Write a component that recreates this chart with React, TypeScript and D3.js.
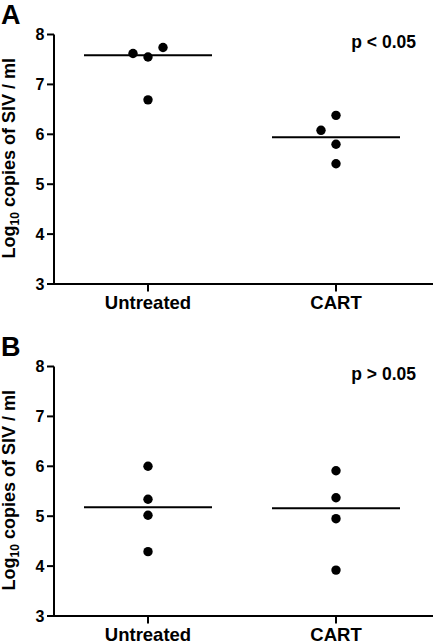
import React from "react";
import * as d3 from "d3";

const categories = ["Untreated", "CART"];
const yTicks = [3, 4, 5, 6, 7, 8];
const panelLabels = ["A", "B"];
const pLabels = ["p < 0.05", "p > 0.05"];
const yLabelMain = "Log";
const yLabelSub = "10";
const yLabelRest = " copies of SIV / ml";

// Panel A values (log10 copies/ml)
const aUntreated = [7.55, 6.69, 7.62, 7.74];
const aCART = [6.38, 5.8, 5.41, 6.08];
// Panel B values
const bUntreated = [6.0, 5.34, 5.02, 4.29];
const bCART = [5.91, 5.37, 4.95, 3.92];

const panelData = [
  [aUntreated, aCART],
  [bUntreated, bCART],
];

const W = 433;
const H = 642;
const FONT = "'Liberation Sans', Arial, Helvetica, sans-serif";

function dodge(values: number[], y: (v: number) => number, thresh: number) {
  const placed: { col: number; py: number }[] = [];
  const order = [0, -1, 1, -2, 2];
  return values.map((v) => {
    const py = y(v);
    let col = 0;
    for (const c of order) {
      const hit = placed.some((p) => p.col === c && Math.abs(p.py - py) < thresh);
      if (!hit) {
        col = c;
        break;
      }
    }
    placed.push({ col, py });
    return col;
  });
}

function Panel({ idx }: { idx: number }) {
  const y0 = idx * 332;
  const top = y0 + 34.5;
  const bottom = y0 + 284;
  const left = 54;
  const right = 433;
  const y = d3.scaleLinear().domain([3, 8]).range([bottom, top]);
  const x = d3.scalePoint<string>().domain(categories).range([left, 430]).padding(0.5);
  const groups = panelData[idx];
  const r = 4.7;
  const colStep = 15;
  const halfW = 64;
  const yLabelCenter = (top + bottom) / 2 - 14;

  return (
    <g>
      <text x={1} y={y0 + 24} fontSize={27} fontWeight="bold" fontFamily={FONT} fill="#000">
        {panelLabels[idx]}
      </text>
      {/* y axis */}
      <line x1={left} x2={left} y1={top} y2={bottom} stroke="#000" strokeWidth={2} />
      {yTicks.map((t) => (
        <g key={t}>
          <line x1={left - 7} x2={left} y1={y(t)} y2={y(t)} stroke="#000" strokeWidth={2} />
          <text
            x={left - 9.5}
            y={y(t)}
            dy="0.36em"
            textAnchor="end"
            fontSize={16}
            fontWeight="bold"
            fontFamily={FONT}
            fill="#000"
          >
            {t}
          </text>
        </g>
      ))}
      {/* x axis */}
      <line x1={left - 1} x2={right} y1={bottom} y2={bottom} stroke="#000" strokeWidth={2} />
      {categories.map((c) => (
        <g key={c}>
          <line x1={x(c)} x2={x(c)} y1={bottom} y2={bottom + 7.5} stroke="#000" strokeWidth={2} />
          <text
            x={x(c)}
            y={bottom + 24.5}
            textAnchor="middle"
            fontSize={18.5}
            fontWeight="bold"
            fontFamily={FONT}
            fill="#000"
          >
            {c}
          </text>
        </g>
      ))}
      {/* y label */}
      <text
        transform={`translate(14.5,${yLabelCenter + 13}) rotate(-90)`}
        textAnchor="middle"
        fontSize={18}
        fontWeight="bold"
        fontFamily={FONT}
        fill="#000"
      >
        {yLabelMain}
        <tspan fontSize={12} dy={4}>
          {yLabelSub}
        </tspan>
        <tspan dy={-4}>{yLabelRest}</tspan>
      </text>
      {/* p label */}
      <text
        x={416}
        y={top + 13}
        textAnchor="end"
        fontSize={17.5}
        fontWeight="bold"
        fontFamily={FONT}
        fill="#000"
      >
        {pLabels[idx]}
      </text>
      {/* data */}
      {groups.map((vals, gi) => {
        const cx = x(categories[gi]) as number;
        const cols = dodge(vals, y, 15.3);
        const med = d3.median(vals) as number;
        return (
          <g key={gi}>
            <line
              x1={cx - halfW}
              x2={cx + halfW}
              y1={y(med)}
              y2={y(med)}
              stroke="#000"
              strokeWidth={2}
            />
            {vals.map((v, i) => (
              <circle key={i} cx={cx + cols[i] * colStep} cy={y(v)} r={r} fill="#000" />
            ))}
          </g>
        );
      })}
    </g>
  );
}

export default function App() {
  return (
    <svg
      width={W}
      height={H}
      viewBox={`0 0 ${W} ${H}`}
      style={{ position: "absolute", left: 0, top: 0, background: "#fff" }}
    >
      <rect width={W} height={H} fill="#fff" />
      {panelLabels.map((_, i) => (
        <Panel key={i} idx={i} />
      ))}
    </svg>
  );
}
